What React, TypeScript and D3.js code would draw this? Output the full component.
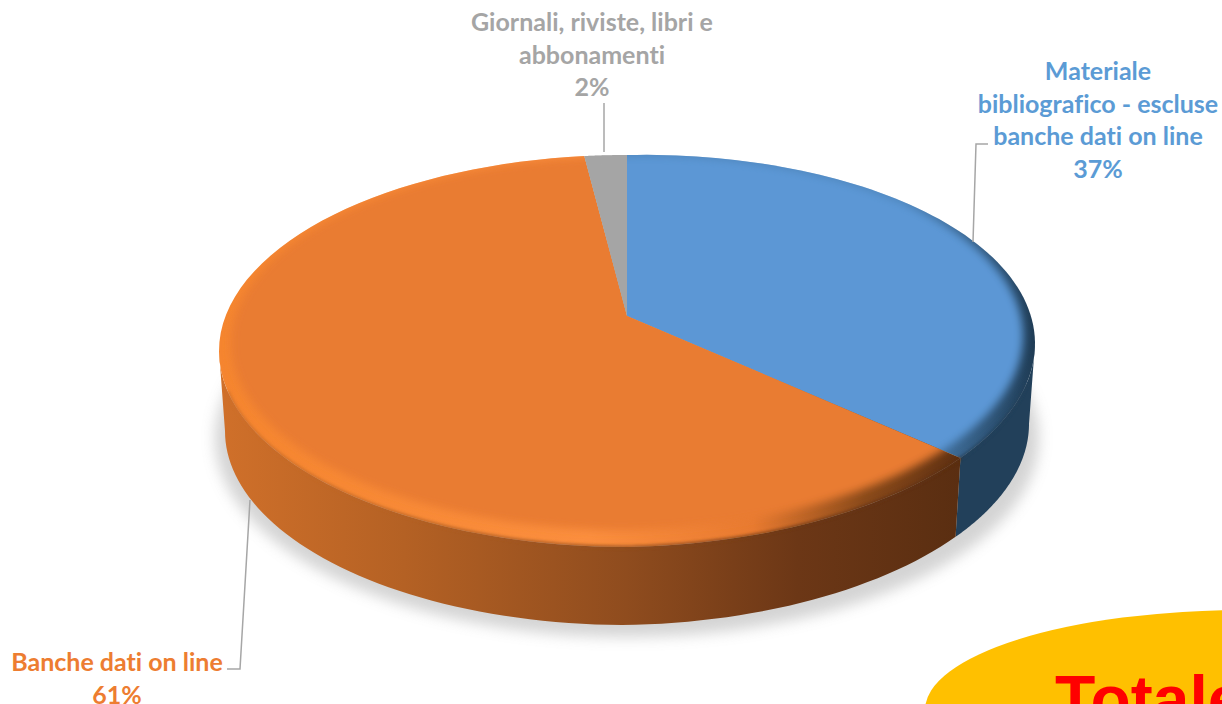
import React from 'react';
import * as d3 from 'd3';

const W = 1222;
const H = 704;

const categories = ['Materiale bibliografico - escluse banche dati on line', 'Banche dati on line', 'Giornali, riviste, libri e abbonamenti'];
const values = [37, 61, 2];
const faceColors = ['#5B97D5', '#E97C30', '#A5A5A5'];
const labelColors = ['#5B9BD5', '#ED7D31', '#A5A5A5'];
const labelLines = [
  ['Materiale', 'bibliografico - escluse', 'banche dati on line', '37%'],
  ['Banche dati on line', '61%'],
  ['Giornali, riviste, libri e', 'abbonamenti', '2%'],
];

// Top ellipse of the disc, and how far the apex sits above its centre (perspective)
const top = { cx: 627, cy: 351, rx: 408, ry: 196 };
const inner = { cx: 627, cy: 343, rx: 396, ry: 187 };
const bottom = { cx: 627, cy: 431, rx: 402, ry: 194 };
const K = 0.179;
const SKEW = 0.018; // right half of the disc leans up a little in the original

type Ell = typeof top;

// boost keeps the unit circle on itself while moving its centre up
const project = (e: Ell, a: number): [number, number] => {
  const u = Math.sin(a);
  const v = -Math.cos(a);
  const w = 1 - K * v;
  const px = e.cx + (e.rx * u * Math.sqrt(1 - K * K)) / w;
  const py = e.cy + (e.ry * (v - K)) / w;
  return [px, py - SKEW * Math.max(0, px - e.cx)];
};

const line = d3.line<[number, number]>();
const samples = (a0: number, a1: number, n = 80) => d3.range(0, n + 1).map(i => a0 + ((a1 - a0) * i) / n);

const pie = d3.pie<number>().sort(null).value(d => d);
const slices = pie(values);

const apex: [number, number] = [top.cx, top.cy - top.ry * K];

const slicePath = (s: d3.PieArcDatum<number>) =>
  line([apex, ...samples(s.startAngle, s.endAngle).map(a => project(top, a))]) + 'Z';

const innerPath = line(samples(0, Math.PI * 2, 240).map(a => project(inner, a))) + 'Z';

// angles on the near half of the disc, where the wall shows
const FRONT0 = Math.acos(-K);
const FRONT1 = Math.PI * 2 - FRONT0;
const frontAngles = (s: d3.PieArcDatum<number>, trim = 0) => {
  const a0 = Math.max(s.startAngle, FRONT0 + trim);
  const a1 = Math.min(s.endAngle, FRONT1 - trim);
  return a1 > a0 ? samples(a0, a1) : null;
};
const wallPath = (s: d3.PieArcDatum<number>) => {
  const t = frontAngles(s);
  if (!t) return null;
  return line([...t.map(a => project(top, a)), ...t.slice().reverse().map(a => project(bottom, a))]) + 'Z';
};
// stops short of the silhouette so its blur does not poke out at the sides
const rimPath = (s: d3.PieArcDatum<number>) => {
  const t = frontAngles(s, 0.2);
  return t ? line(t.map(a => project(top, a))) : null;
};

const leaders = [
  [[973, 242], [976, 144], [988, 144]],
  [[250, 500], [240, 669], [227, 669]],
  [[604, 152], [604, 103]],
] as [number, number][][];

const labelPos = [
  { x: 1098, y: 80 },
  { x: 117, y: 671 },
  { x: 592, y: 31 },
];

const wallFill = (i: number) => (i === 1 ? 'url(#wall-1)' : '#22405A');

export default function App() {
  return (
    <svg width={W} height={H} viewBox={`0 0 ${W} ${H}`} style={{ position: 'absolute', left: 0, top: 0, background: '#fff' }}>
      <defs>
        <filter id="shadow" x="-10%" y="-10%" width="120%" height="120%"><feGaussianBlur stdDeviation="7" /></filter>
        <filter id="soft" x="-5%" y="-5%" width="110%" height="110%"><feGaussianBlur stdDeviation="4" /></filter>
        <filter id="rim" x="-5%" y="-5%" width="110%" height="110%"><feGaussianBlur stdDeviation="1.5" /></filter>
        <linearGradient id="wall-1" gradientUnits="userSpaceOnUse" x1={219} x2={961} y1={0} y2={0}>
          <stop offset="0" stopColor="#D0702A" />
          <stop offset="0.25" stopColor="#B46124" />
          <stop offset="0.55" stopColor="#8F4C1E" />
          <stop offset="0.78" stopColor="#6C3716" />
          <stop offset="1" stopColor="#5A2E11" />
        </linearGradient>
        <linearGradient id="bevel-1" gradientUnits="userSpaceOnUse" x1={219} x2={961} y1={0} y2={0}>
          <stop offset="0" stopColor="#F5852F" />
          <stop offset="0.5" stopColor="#FB8E3E" />
          <stop offset="0.72" stopColor="#E87A30" />
          <stop offset="0.87" stopColor="#8A4A1A" />
          <stop offset="1" stopColor="#5E3012" />
        </linearGradient>
        <linearGradient id="bevel-0" gradientUnits="userSpaceOnUse" x1={900} x2={1035} y1={0} y2={0}>
          <stop offset="0" stopColor="#4F86BC" />
          <stop offset="1" stopColor="#1F3C55" />
        </linearGradient>
        {slices.map((s, i) => (
          <clipPath key={i} id={`clip-${i}`}><path d={slicePath(s)} /></clipPath>
        ))}
      </defs>

      <ellipse cx={bottom.cx} cy={bottom.cy + 7} rx={bottom.rx + 10} ry={bottom.ry + 5} fill="#9a9a9a" opacity={0.42} filter="url(#shadow)" />

      {/* walls */}
      {slices.map((s, i) => {
        const d = wallPath(s);
        return d ? <path key={i} d={d} fill={wallFill(i)} /> : null;
      })}

      {/* faces with bevel */}
      {slices.map((s, i) => (
        <g key={i} data-cat={categories[i]}>
          <path d={slicePath(s)} fill={i === 2 ? faceColors[2] : `url(#bevel-${i})`} />
          <g clipPath={`url(#clip-${i})`}>
            <path d={innerPath} fill={faceColors[i]} filter="url(#soft)" />
          </g>
        </g>
      ))}

      {/* soft edge where the bevel turns into the wall */}
      {slices.map((s, i) => {
        const d = rimPath(s);
        return d ? <path key={i} d={d} fill="none" stroke={wallFill(i)} strokeWidth={3} opacity={0.8} filter="url(#rim)" /> : null;
      })}

      {leaders.map((p, i) => (
        <path key={i} d={line(p) as string} fill="none" stroke="#A6A6A6" strokeWidth={1.5} />
      ))}

      {labelLines.map((lines, i) => (
        <text key={i} textAnchor="middle" fontFamily="Lato, 'Open Sans', sans-serif" fontWeight={700} fontSize={25} fill={labelColors[i]} style={{ fontVariantLigatures: 'none' }}>
          {lines.map((t, j) => (
            <tspan key={j} x={labelPos[i].x} y={labelPos[i].y + j * 32.5}>{t}</tspan>
          ))}
        </text>
      ))}

      <ellipse cx={1245} cy={710} rx={320} ry={100} fill="#FFC000" />
      <text x={1055} y={722} fontFamily="'Liberation Sans', Arial, sans-serif" fontWeight={700} fontSize={66} fill="#FF0000">Totale</text>
    </svg>
  );
}
